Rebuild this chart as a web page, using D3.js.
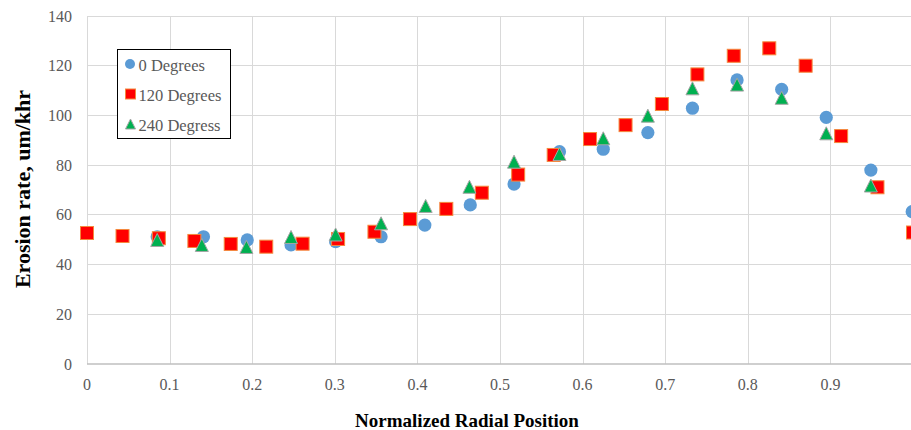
<!DOCTYPE html>
<html>
<head>
<meta charset="utf-8">
<script src="https://cdn.jsdelivr.net/npm/d3@7/dist/d3.min.js"></script>
<style>
  html, body { margin: 0; padding: 0; background: #fff; }
  svg { display: block; }
  text { font-family: "Liberation Serif", "Times New Roman", serif; }
</style>
</head>
<body>
<div id="chart"></div>
<script>
// Erosion rate vs. normalized radial position, three angular traverses
const pos0 = [0.085, 0.141, 0.194, 0.247, 0.301, 0.356, 0.409, 0.464, 0.517, 0.572, 0.625, 0.679, 0.733, 0.787, 0.841, 0.895, 0.949, 0.999];
const val0 = [51.2, 51.2, 49.9, 47.9, 49.2, 51.2, 55.9, 64.0, 72.4, 85.4, 86.4, 93.1, 102.9, 114.3, 110.5, 99.2, 78.0, 61.3];

const pos120 = [0, 0.043, 0.087, 0.130, 0.174, 0.217, 0.261, 0.304, 0.348, 0.391, 0.435, 0.478, 0.522, 0.565, 0.609, 0.652, 0.696, 0.739, 0.783, 0.826, 0.870, 0.913, 0.957, 1.0];
const val120 = [52.7, 51.5, 50.6, 49.5, 48.3, 47.2, 48.4, 50.3, 53.2, 58.3, 62.4, 68.9, 76.2, 84.1, 90.5, 96.1, 104.6, 116.5, 124.0, 127.0, 120.0, 91.7, 71.1, 52.9];

const pos240 = [0.085, 0.139, 0.193, 0.247, 0.301, 0.356, 0.410, 0.463, 0.517, 0.572, 0.625, 0.679, 0.733, 0.787, 0.841, 0.895, 0.949];
const val240 = [49.9, 47.9, 47.1, 51.1, 52.1, 56.6, 63.6, 71.3, 81.4, 84.5, 90.8, 99.9, 110.9, 112.4, 107.1, 92.8, 71.8];

const seriesNames = ["0 Degrees", "120 Degrees", "240 Degress"];
const xGrid = [0, 0.1, 0.2, 0.3, 0.4, 0.5, 0.6, 0.7, 0.8, 0.9, 1.0];
const xTickLabels = [0, 0.1, 0.2, 0.3, 0.4, 0.5, 0.6, 0.7, 0.8, 0.9];
const yTicks = [0, 20, 40, 60, 80, 100, 120, 140];

const W = 911, H = 430;
const svg = d3.select("#chart").append("svg").attr("width", W).attr("height", H);

const x = d3.scaleLinear().domain([0, 1]).range([87, 913]);
const y = d3.scaleLinear().domain([0, 140]).range([364, 16]);

const grid = "#d9d9d9", labelColor = "#595959";

// gridlines
svg.append("g").selectAll("line").data(yTicks.filter(d => d > 0)).join("line")
  .attr("x1", x(0)).attr("x2", x(1)).attr("y1", d => y(d)).attr("y2", d => y(d))
  .attr("stroke", grid).attr("stroke-width", 1).attr("shape-rendering", "crispEdges");
svg.append("g").selectAll("line").data(xGrid).join("line")
  .attr("x1", d => Math.round(x(d)) + 0.5).attr("x2", d => Math.round(x(d)) + 0.5)
  .attr("y1", y(140)).attr("y2", y(0))
  .attr("stroke", grid).attr("stroke-width", 1);

// x axis baseline
svg.append("line").attr("x1", x(0)).attr("x2", x(1)).attr("y1", y(0)).attr("y2", y(0))
  .attr("stroke", "#bfbfbf").attr("stroke-width", 1.5);

// tick labels
svg.append("g").selectAll("text").data(yTicks).join("text")
  .attr("x", 72).attr("y", d => y(d)).attr("dy", "0.35em")
  .attr("text-anchor", "end").attr("font-size", 16).attr("fill", labelColor)
  .text(d => d);
svg.append("g").selectAll("text").data(xTickLabels).join("text")
  .attr("x", d => x(d)).attr("y", 384).attr("dy", "0.35em")
  .attr("text-anchor", "middle").attr("font-size", 16).attr("fill", labelColor)
  .text(d => d3.format("")(d));

// axis titles
svg.append("text").attr("x", 467).attr("y", 420).attr("dy", "0.35em")
  .attr("text-anchor", "middle").attr("font-size", 19).attr("font-weight", "bold")
  .attr("fill", "#000").text("Normalized Radial Position");
svg.append("text").attr("transform", "translate(22,189) rotate(-90)").attr("dy", "0.35em")
  .attr("text-anchor", "middle").attr("font-size", 22).attr("font-weight", "bold")
  .attr("fill", "#000").text("Erosion rate, um/khr");

// marker shapes
const triPath = (s) => `M0,${-s / 2}L${s / 2},${s / 2}L${-s / 2},${s / 2}Z`;

const d0 = pos0.map((p, i) => ({ p, v: val0[i] }));
const d120 = pos120.map((p, i) => ({ p, v: val120[i] }));
const d240 = pos240.map((p, i) => ({ p, v: val240[i] }));

svg.append("g").selectAll("circle").data(d0).join("circle")
  .attr("cx", d => x(d.p)).attr("cy", d => y(d.v)).attr("r", 6.6)
  .attr("fill", "#5b9bd5");

svg.append("g").selectAll("rect").data(d120).join("rect")
  .attr("x", d => x(d.p) - 6.5).attr("y", d => y(d.v) - 6.5)
  .attr("width", 13).attr("height", 13)
  .attr("fill", "#ff0000").attr("stroke", "#f4893e").attr("stroke-width", 1);

svg.append("g").selectAll("path").data(d240).join("path")
  .attr("transform", d => `translate(${x(d.p)},${y(d.v)})`)
  .attr("d", triPath(13))
  .attr("fill", "#00b050").attr("stroke", "#a5a5a5").attr("stroke-width", 1);

// legend
const lg = svg.append("g");
lg.append("rect").attr("x", 117.5).attr("y", 49.5).attr("width", 113).attr("height", 89)
  .attr("fill", "#fff").attr("stroke", "#000").attr("stroke-width", 1);
const ly = [64, 94, 124];
lg.append("circle").attr("cx", 130).attr("cy", ly[0]).attr("r", 5).attr("fill", "#5b9bd5");
lg.append("rect").attr("x", 125.5).attr("y", ly[1] - 5).attr("width", 10).attr("height", 10)
  .attr("fill", "#ff0000").attr("stroke", "#f4893e").attr("stroke-width", 1);
lg.append("path").attr("transform", `translate(130.5,${ly[2]})`).attr("d", triPath(10))
  .attr("fill", "#00b050").attr("stroke", "#a5a5a5").attr("stroke-width", 1);
lg.selectAll("text").data(seriesNames).join("text")
  .attr("x", 138.5).attr("y", (d, i) => ly[i] + 1).attr("dy", "0.35em")
  .attr("font-size", 16.5).attr("fill", labelColor).text(d => d);
</script>
</body>
</html>
